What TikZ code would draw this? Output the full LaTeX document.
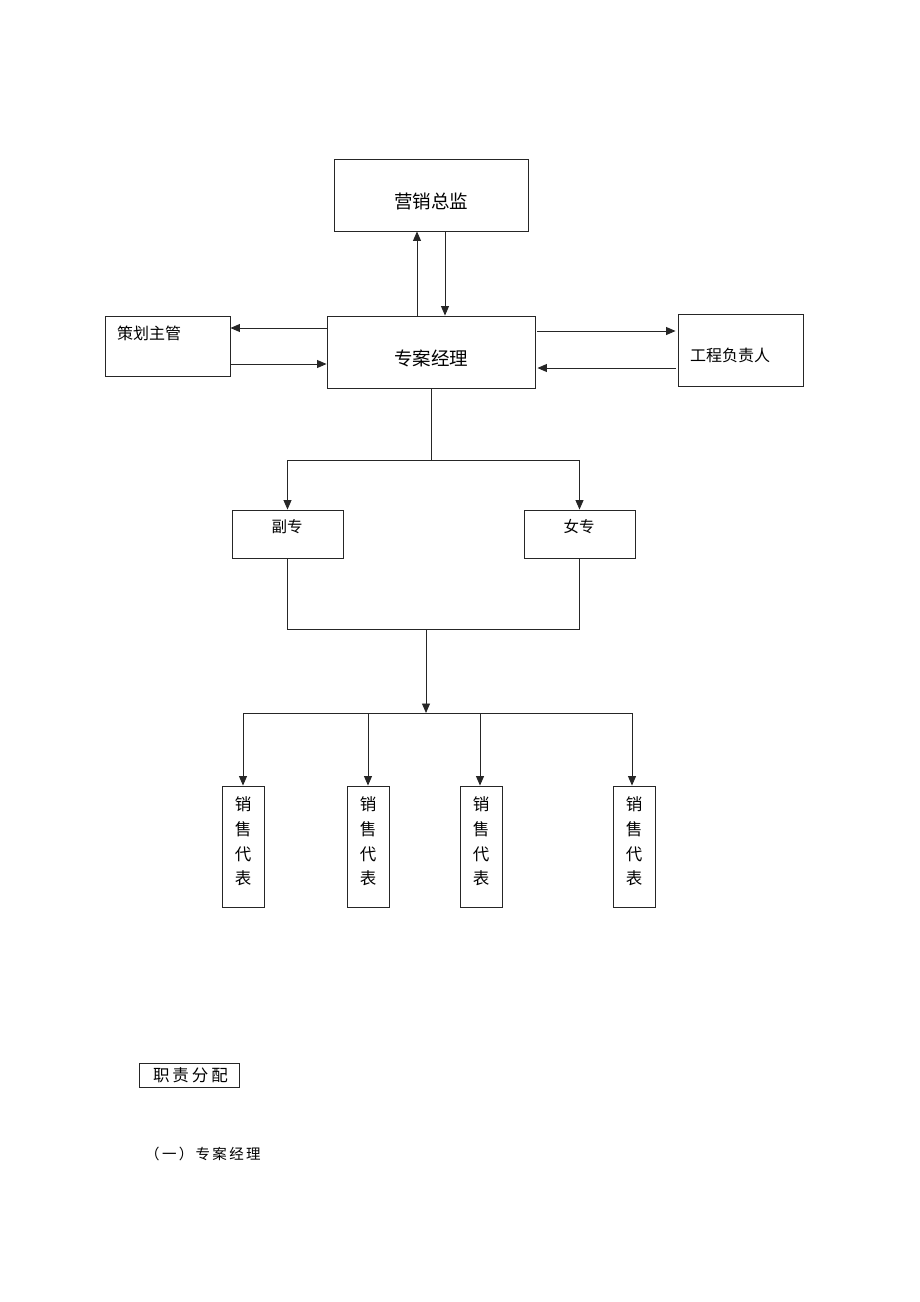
\documentclass[tikz,border=0pt]{standalone}
\usepackage{fontspec}
\setmainfont{Noto Sans CJK SC}
\usetikzlibrary{arrows.meta}
\begin{document}
\begin{tikzpicture}[x=1pt,y=-1pt,
  box/.style={draw=black!85,line width=0.9pt,inner sep=0pt},
  ln/.style={draw=black!85,line width=0.9pt},
  arr/.style={ln,-{Triangle[length=9.5pt,width=8pt]}},
  big/.style={label={[yshift=-6pt,inner sep=0pt,font=\fontsize{18.5}{20}\selectfont]center:#1}},
  sales/.style={box,minimum width=42pt,minimum height=121pt,
    label={[yshift=5pt,align=center,inner sep=0pt,font=\fontsize{16.5}{24.6}\selectfont]center:销\\售\\代\\表}}]
\useasboundingbox (0,0) rectangle (920,1302);
\node[box,minimum width=194pt,minimum height=72pt,big=营销总监] (zx) at (431,195) {};
\node[box,minimum width=208pt,minimum height=72pt,big=专案经理] (zj) at (431,352) {};
\node[box,minimum width=125pt,minimum height=60pt] (ch) at (167.5,346) {};
\node[anchor=west,inner sep=0pt,font=\fontsize{16}{18}\selectfont] (cht) at (117,333) {策划主管};
\node[box,minimum width=125pt,minimum height=72pt] (gc) at (740.5,350) {};
\node[anchor=west,inner sep=0pt,font=\fontsize{16}{18}\selectfont] (gct) at (690,355) {工程负责人};
\node[box,minimum width=111pt,minimum height=48pt] (fz) at (287.5,534) {};
\node[inner sep=0pt,font=\fontsize{15.5}{18}\selectfont] (fzt) at (287,527) {副专};
\node[box,minimum width=111pt,minimum height=48pt] (nz) at (579.5,534) {};
\node[inner sep=0pt,font=\fontsize{15.5}{18}\selectfont] (nzt) at (579,527) {女专};
\node[sales] (s1) at (243,846.5) {};
\node[sales] (s2) at (368,846.5) {};
\node[sales] (s3) at (481,846.5) {};
\node[sales] (s4) at (634,846.5) {};
\node[box,minimum width=100pt,minimum height=24pt,font=\fontsize{16.5}{18}\selectfont] (zz) at (189,1075) {\addfontfeature{LetterSpace=18}职责分配\hspace*{-3pt}};
\node[anchor=west,inner sep=0pt,font=\fontsize{14.5}{18}\selectfont] (yi) at (145,1154) {\addfontfeature{LetterSpace=16}（一）专案经理};
% connectors
\draw[arr] (zj.north -| 417,0) -- (zx.south -| 417,0);
\draw[arr] (zx.south -| 445,0) -- (zj.north -| 445,0);
\draw[arr] (zj.west |- 0,328) -- (ch.east |- 0,328);
\draw[arr] (ch.east |- 0,364) -- (zj.west |- 0,364);
\draw[arr] ([xshift=2pt]zj.east |- 0,331) -- ([xshift=-2pt]gc.west |- 0,331);
\draw[arr] ([xshift=-2pt]gc.west |- 0,368) -- ([xshift=2pt]zj.east |- 0,368);
\coordinate (j1) at (431,460);
\draw[ln] (zj.south) -- (j1);
\draw[arr] (j1) -| (fz.north);
\draw[arr] (j1) -| (nz.north);
\coordinate (j2) at (426,629);
\draw[ln] (fz.south) |- (j2);
\draw[ln] (nz.south) |- (j2);
\coordinate (j3) at (426,713);
\draw[arr] (j2) -- (j3);
\draw[arr] (j3) -| (s1.north);
\draw[arr] (j3) -| (s2.north);
\draw[arr] (j3) -| ([xshift=-1pt]s3.north);
\draw[arr] (j3) -| ([xshift=-2pt]s4.north);
\end{tikzpicture}
\end{document}
